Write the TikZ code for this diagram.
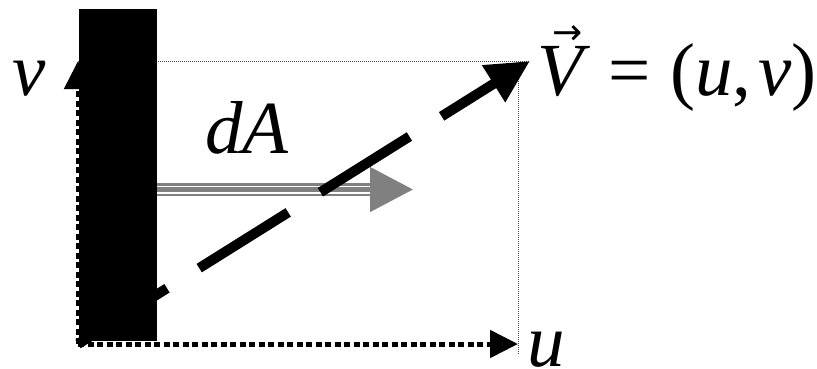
\documentclass[tikz,border=0pt]{standalone}
\usepackage{fontspec}
\setmainfont{Liberation Serif}
\newfontfamily\arrowfont{DejaVu Sans}
\usetikzlibrary{arrows.meta,positioning}

\begin{document}
\begin{tikzpicture}[
    x=1pt, y=-1pt,
    wall/.style={rectangle, fill=black, minimum width=78pt, minimum height=332pt, inner sep=0pt},
    lbl/.style={font=\fontsize{75}{80}\selectfont, inner sep=0pt, anchor=base west},
    axis/.style={line width=5pt, dash pattern=on 6pt off 3.5pt, -{Triangle[length=28pt, width=27pt]}},
    guide/.style={line width=0.8pt, black!70, dash pattern=on 1pt off 1pt},
    vecarrow/.style={line width=10pt, dash pattern=on 105pt off 38pt, -{Triangle[length=43pt, width=41pt]}},
    areaarrow/.style={gray, line width=5pt, -{Triangle[length=43pt, width=44pt]},
        preaction={draw, gray, line width=13pt, shorten >=43pt, -},
        preaction={draw, white, line width=8pt, shorten >=43pt, -}}
]
\useasboundingbox (0,0) rectangle (817,368);

% --- Points ---
\coordinate (origin) at (78,344);
\coordinate (vtip) at (78,61);
\coordinate (utip) at (518,344);
\coordinate (Vtip) at (530,61);
\coordinate (corner) at (518,61);
\coordinate (cornerend) at (518,355);
\coordinate (dAstart) at (157,189.5);
\coordinate (dAend) at (413,189.5);

% --- Guides ---
\draw[guide] (corner) -- (cornerend);
\draw[guide] (vtip) -- (Vtip);

% --- Axes ---
\draw[axis] (origin) -- (vtip);
\draw[axis] (origin) -- (utip);

% --- Area normal and vector ---
\draw[areaarrow] (dAstart) -- (dAend);
\draw[vecarrow] (origin) -- (Vtip);

% --- Wall ---
\node[wall] (wall) at (118,175) {};

% --- Labels ---
\node[lbl] (vlabel) at (12,95) {\textit{v}};
\node[lbl] (dAlabel) at (205,153) {\textit{dA}};
\node[lbl] (ulabel) at (527,366) {\textit{u}};
\node[lbl] (Vlabel) at (537,95) {\rlap{\raisebox{51pt}{\hspace{15pt}\arrowfont\fontsize{36}{36}\selectfont →}}\textit{V} = (\textit{u},\kern7pt\textit{v})};

\end{tikzpicture}
\end{document}
